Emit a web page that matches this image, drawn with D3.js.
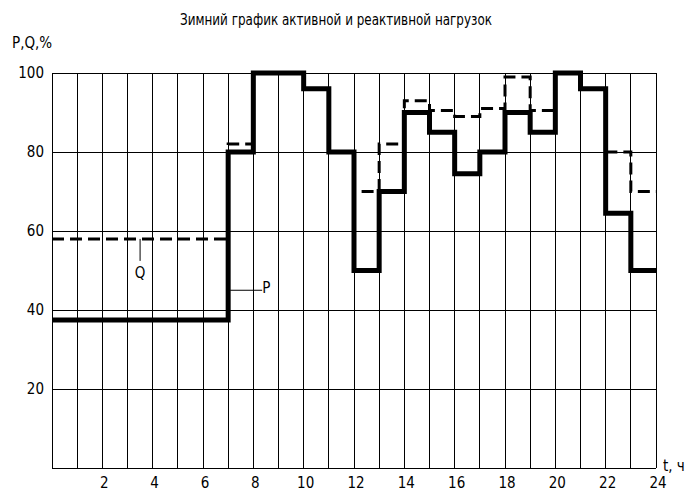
<!DOCTYPE html>
<html>
<head>
<meta charset="utf-8">
<script src="https://cdn.jsdelivr.net/npm/d3@7"></script>
<style>
  body { margin: 0; background: #fff; }
  text { font-family: "Liberation Sans Narrow", "DejaVu Sans Condensed", sans-serif; fill: #000; }
</style>
</head>
<body>
<div id="chart"></div>
<script>
// hours 0..23, value holds for the whole hour
const hours = d3.range(0, 24);
const pValues = [37.5, 37.5, 37.5, 37.5, 37.5, 37.5, 37.5, 80, 100, 100, 96, 80, 50, 70, 90, 85, 74.5, 80, 90, 85, 100, 96, 64.5, 50];
const qValues = [58, 58, 58, 58, 58, 58, 58, 82, 100, 100, 96, 80, 70, 82, 93, 90.5, 89, 91, 99, 90.5, 100, 96, 80, 70];
const xTicks = [2, 4, 6, 8, 10, 12, 14, 16, 18, 20, 22, 24];
const yTicks = [20, 40, 60, 80, 100];

const W = 697, H = 501;
const svg = d3.select("#chart").append("svg")
  .attr("width", W).attr("height", H);

const x = d3.scaleLinear().domain([0, 24]).range([52, 656]);
const y = d3.scaleLinear().domain([0, 100]).range([468, 73]);

// grid
svg.append("g").selectAll("line.v")
  .data(d3.range(0, 25))
  .join("line")
  .attr("x1", d => x(d)).attr("x2", d => x(d))
  .attr("y1", y(0)).attr("y2", y(100))
  .attr("stroke", "#000").attr("stroke-width", 1)
  .attr("shape-rendering", "crispEdges");

svg.append("g").selectAll("line.h")
  .data([0].concat(yTicks))
  .join("line")
  .attr("x1", x(0)).attr("x2", x(24))
  .attr("y1", d => y(d)).attr("y2", d => y(d))
  .attr("stroke", "#000").attr("stroke-width", 1)
  .attr("shape-rendering", "crispEdges");

// axis labels
svg.append("g").selectAll("text")
  .data(yTicks)
  .join("text")
  .attr("x", 44).attr("y", d => y(d) + 5)
  .attr("text-anchor", "end")
  .attr("font-size", 15)
  .text(d => d);

svg.append("g").selectAll("text")
  .data(xTicks)
  .join("text")
  .attr("x", d => x(d) + 2).attr("y", 488)
  .attr("text-anchor", "middle")
  .attr("font-size", 15)
  .text(d => d);

svg.append("text").attr("x", 12).attr("y", 48).attr("font-size", 15).text("P,Q,%");
svg.append("text").attr("x", 663).attr("y", 471).attr("font-size", 15).text("t, ч");
svg.append("text").attr("x", 180).attr("y", 25)
  .attr("font-size", 15)
  .attr("textLength", 312).attr("lengthAdjust", "spacingAndGlyphs")
  .text("Зимний график активной и реактивной нагрузок");

// step lines
const step = d3.line()
  .x(d => x(d[0])).y(d => y(d[1]))
  .curve(d3.curveStepAfter);

const qPts = hours.map((h, i) => [h, qValues[i]]).concat([[24, qValues[23]]]);
const pPts = hours.map((h, i) => [h, pValues[i]]).concat([[24, pValues[23]]]);

svg.append("path")
  .attr("d", step(qPts))
  .attr("fill", "none").attr("stroke", "#000")
  .attr("stroke-width", 3)
  .attr("stroke-dasharray", "12,6");

svg.append("path")
  .attr("d", step(pPts))
  .attr("fill", "none").attr("stroke", "#000")
  .attr("stroke-width", 5)
  .attr("stroke-linejoin", "miter");

// leaders
const qh = 3.5;
svg.append("line")
  .attr("x1", x(qh)).attr("x2", x(qh))
  .attr("y1", y(qValues[3])).attr("y2", y(qValues[3]) + 22)
  .attr("stroke", "#000").attr("stroke-width", 1);
svg.append("text").attr("x", x(qh)).attr("y", y(qValues[3]) + 39)
  .attr("text-anchor", "middle").attr("font-size", 15).text("Q");

const py = 45;
svg.append("line")
  .attr("x1", x(7) + 2).attr("x2", x(7) + 34)
  .attr("y1", y(py)).attr("y2", y(py))
  .attr("stroke", "#000").attr("stroke-width", 1);
svg.append("text").attr("x", x(7) + 34).attr("y", y(py) + 3)
  .attr("font-size", 15).text("P");
</script>
</body>
</html>
